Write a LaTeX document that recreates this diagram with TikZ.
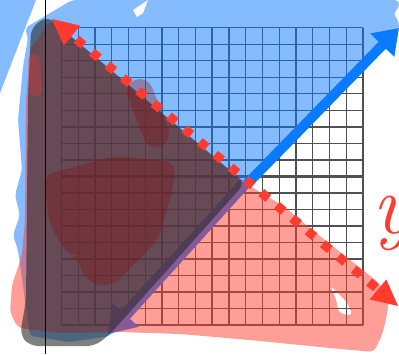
\documentclass[tikz,border=0pt]{standalone}
\usetikzlibrary{arrows.meta}
\definecolor{ablue}{HTML}{0A7AFF}
\definecolor{ared}{HTML}{FF3B30}
\definecolor{gridc}{HTML}{505050}
\definecolor{darkg}{HTML}{2A2A2A}
\definecolor{blobred}{HTML}{8A1010}
\begin{document}
\begin{tikzpicture}[x=1pt,y=-1pt,
  gridline/.style={draw=gridc,line width=1.4pt},
  bluefill/.style={fill=ablue,fill opacity=0.5},
  pinkfill/.style={fill=ared,fill opacity=0.5},
  darkfill/.style={fill=darkg,fill opacity=0.6},
  blob/.style={fill=blobred,fill opacity=0.35},
  reddot/.style={draw=ared,line width=9pt,dash pattern=on 9pt off 11pt,dash phase=-6pt},
  bluearrow/.style={draw=ablue,line width=10pt,-{Triangle[length=24pt,width=32pt]}}]
\useasboundingbox (0,0) rectangle (399,354);
\clip (0,0) rectangle (399,354);
% grid
\foreach \i in {0,...,18} \draw[gridline] ({61.5+16.75*\i},27.7) -- ({61.5+16.75*\i},325);
\foreach \j in {0,...,18} \draw[gridline] (61.5,{27.7+16.52*\j}) -- (363,{27.7+16.52*\j});
\draw[gridline,line width=2.2pt] (212.25,27.7) -- (212.25,325);
\draw[gridline,line width=2.2pt] (61.5,176.4) -- (363,176.4);
% blue area
\fill[bluefill,rounded corners=4pt] (72,0) -- (399,0) -- (399,8) -- (393,13) -- (399,22) -- (399,30) -- (250,186) -- (110,336) -- (70,342) -- (30,336) -- (18,250) -- (13,235) -- (20,215) -- (15,195) -- (22,170) -- (18,120) -- (23,67) -- (28,38) -- (25,28) -- cycle;
\fill[bluefill] (0,0) -- (36,0) -- (0,93) -- cycle;
\fill[white] (133,10) -- (148,0) -- (143,13) -- (137,17) -- cycle;
% lower-left arrow (under the overlays)
\draw[draw=ablue,line width=12pt,-{Triangle[length=26pt,width=34pt]}] (245,183) -- (108,334);
% pink area
\fill[pinkfill,even odd rule,rounded corners=5pt] (50,20) -- (245,183) -- (285,207) -- (300,220) -- (340,252) -- (378,282) -- (389,300) -- (386,320) -- (382,335) -- (374,352) -- (330,348) -- (250,340) -- (180,334) -- (120,332) -- (60,333) -- (18,328) -- (10,312) -- (12,285) -- (22,255) -- (25,220) -- (26,100) -- (30,50) -- cycle
  (330,285) -- (337,302) -- (338,313) -- (353,316) -- (347,302) -- cycle;
% dark region
\fill[darkfill,rounded corners=8pt] (47,16) -- (245,183) -- (110,334) -- (95,346) -- (30,346) -- (20,335) -- (26,300) -- (28,100) -- (31,28) -- cycle;
% dark red blobs
\fill[blob,rounded corners=12pt] (113,156) -- (176,162) -- (172,192) -- (158,240) -- (110,288) -- (85,281) -- (78,256) -- (70,258) -- (50,226) -- (43,175) -- (70,168) -- cycle;
\draw[draw=blobred,draw opacity=0.35,line width=26pt,line cap=round] (140,92) -- (156,134);
\draw[draw=ared,draw opacity=0.3,line width=12pt,line cap=round] (34,60) -- (36,90);
% upper-right arrow
\draw[bluearrow] (247,184) -- (399,28);
% red dotted arrow
\draw[reddot] (72,35.6) -- (378,289.4);
\fill[ared] (52,19) -- (80.3,25.6) -- (63.7,45.6) -- cycle;
\fill[ared] (398,306) -- (369.7,299.4) -- (386.3,279.4) -- cycle;
% vertical line
\draw[black,line width=1pt] (45,0) -- (45,354);
% label
\node[anchor=base west,text=ared,inner sep=0pt,font=\fontsize{85}{85}\selectfont\itshape] (ylabel) at (372,233) {y};
\end{tikzpicture}
\end{document}
